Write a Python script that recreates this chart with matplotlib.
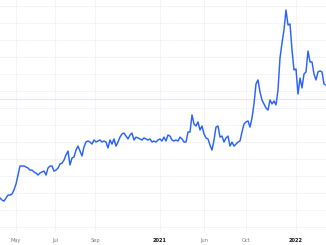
import numpy as np
import matplotlib
matplotlib.use('Agg')
import matplotlib.pyplot as plt

# price series (arbitrary units)
prices = [
    17.1, 15.9, 15.3, 17.1, 18.8, 18.8, 19.4, 21.8, 25.3, 30.6,
    35.9, 35.9, 35.9, 35.3, 34.7, 33.5, 33.5, 32.4, 31.8, 30.6,
    31.8, 32.4, 32.9, 30.6, 34.7, 35.9, 35.9, 32.9, 33.5, 34.7,
    37.1, 37.6, 39.4, 42.4, 44.7, 36.5, 40.6, 41.2, 45.3, 47.6,
    44.7, 41.8, 47.1, 50.0, 50.6, 50.0, 48.8, 51.2, 50.0, 50.6,
    51.2, 50.0, 50.6, 50.0, 46.5, 51.2, 48.8, 51.8, 47.6, 50.0,
    52.9, 54.7, 55.3, 53.5, 51.8, 54.1, 55.3, 51.2, 52.9, 52.4,
    51.8, 51.2, 52.4, 51.8, 51.2, 51.8, 50.0, 50.6, 50.0, 51.2,
    51.8, 50.6, 52.9, 50.6, 54.1, 53.5, 51.2, 50.6, 51.2, 50.6,
    52.9, 51.8, 50.0, 50.0, 55.9, 55.9, 65.9, 60.6, 59.4, 61.8,
    57.1, 59.4, 54.7, 52.4, 51.8, 48.2, 45.3, 51.2, 58.8, 59.4,
    52.9, 53.5, 50.0, 52.4, 53.5, 47.6, 50.0, 47.6, 48.8, 50.0,
    50.6, 55.9, 60.6, 61.8, 62.4, 58.8, 64.1, 72.4, 84.1, 86.5,
    79.4, 74.7, 72.4, 70.0, 68.8, 74.7, 72.4, 74.1, 71.8, 80.6,
    99.4, 108.2, 115.9, 127.6, 118.8, 119.4, 104.1, 92.4, 92.9, 78.2,
    87.6, 81.8, 90.0, 91.2, 103.5, 97.1, 97.1, 90.0, 86.5, 91.2,
    91.8, 91.2, 84.1, 83.5,
]

tick_labels = ['May', 'Jul', 'Sep', '2021', 'Jun', 'Oct', '2022']
tick_index = [8, 27.5, 47.5, 80, 102, 123, 148]
year_labels = {'2021', '2022'}

ref_level = 75.3

fig = plt.figure(figsize=(3.26, 2.45), dpi=100)
ax = fig.add_axes([0, 13 / 245, 1, 232 / 245])

x = np.arange(len(prices))
ax.plot(x, prices, color='#2962ff', lw=1.05, solid_joinstyle='round', zorder=3)
ax.axhline(ref_level, color='#fbe3b8', lw=0.6, zorder=2)

ax.set_xlim(0, len(prices) - 1)
ax.set_ylim(-2.9, 133.5)
ax.set_yticks(np.arange(0, 131, 10))
ax.set_xticks(tick_index)
ax.set_xticklabels(tick_labels)
ax.yaxis.set_ticklabels([])

ax.grid(True, color='#f0f3fa', lw=0.6, zorder=0)
ax.tick_params(length=0, pad=4.2, labelsize=3.6, colors='#787b86')
for lab in ax.get_xticklabels():
    if lab.get_text() in year_labels:
        lab.set_fontweight('bold')
        lab.set_color('#131722')

for s in ax.spines.values():
    s.set_visible(False)

fig.savefig('out.png', dpi=100)
